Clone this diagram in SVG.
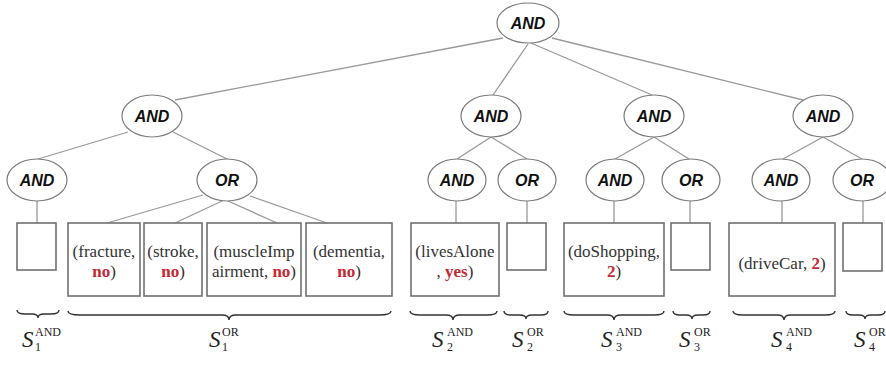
<svg xmlns="http://www.w3.org/2000/svg" width="886" height="365" viewBox="0 0 886 365">
<style>
.e{fill:#fff;stroke:#7a7a7a;stroke-width:1.2}
.nt{font-family:"Liberation Sans",Arial,sans-serif;font-weight:bold;font-style:italic;font-size:16px;fill:#111;text-anchor:middle}
.c line{stroke:#999;stroke-width:1.3}
.b{fill:#fff;stroke:#707070;stroke-width:1.6}
.bt{font-family:"Liberation Serif","Times New Roman",serif;font-size:17px;fill:#333;text-anchor:middle}
.r{fill:#c62832;font-weight:bold}
.br{fill:none;stroke:#333;stroke-width:1.4}
.s{font-family:"Liberation Serif","Times New Roman",serif;font-style:italic;font-size:23px;fill:#222}
.sp{font-family:"Liberation Serif","Times New Roman",serif;font-size:12px;fill:#222}
</style>
<rect width="886" height="365" fill="#fff"/>
<g id="connectors" class="c">
<line x1="503" y1="38" x2="175" y2="100"/>
<line x1="528" y1="44" x2="493" y2="95"/>
<line x1="531" y1="43" x2="652" y2="95"/>
<line x1="552" y1="38" x2="803" y2="100"/>
<line x1="128" y1="132" x2="38" y2="159"/>
<line x1="173" y1="132" x2="227" y2="159"/>
<line x1="491" y1="137" x2="457" y2="159"/>
<line x1="491" y1="137" x2="527" y2="159"/>
<line x1="654" y1="137" x2="615" y2="159"/>
<line x1="654" y1="137" x2="689" y2="159"/>
<line x1="823" y1="137" x2="783" y2="159"/>
<line x1="823" y1="137" x2="862" y2="159"/>
<line x1="37" y1="201" x2="37" y2="223"/>
<line x1="203" y1="195" x2="107" y2="223"/>
<line x1="222" y1="201" x2="175" y2="223"/>
<line x1="228" y1="201" x2="277" y2="223"/>
<line x1="250" y1="196" x2="327" y2="223"/>
<line x1="456" y1="201" x2="456" y2="223"/>
<line x1="527" y1="201" x2="527" y2="223"/>
<line x1="614" y1="201" x2="614" y2="223"/>
<line x1="690" y1="201" x2="690" y2="223"/>
<line x1="782" y1="201" x2="782" y2="223"/>
<line x1="863" y1="201" x2="863" y2="223"/>
</g>
<g id="root"><ellipse class="e" cx="528" cy="23" rx="31" ry="20"/><text class="nt" x="528" y="29">AND</text></g>
<g id="and1"><ellipse class="e" cx="152" cy="116" rx="30" ry="21"/><text class="nt" x="152" y="122">AND</text></g>
<g id="and2"><ellipse class="e" cx="491" cy="116" rx="30" ry="21"/><text class="nt" x="491" y="122">AND</text></g>
<g id="and3"><ellipse class="e" cx="654" cy="116" rx="30" ry="21"/><text class="nt" x="654" y="122">AND</text></g>
<g id="and4"><ellipse class="e" cx="823" cy="116" rx="30" ry="21"/><text class="nt" x="823" y="122">AND</text></g>
<g id="and1a"><ellipse class="e" cx="37" cy="180" rx="30" ry="21"/><text class="nt" x="37" y="186">AND</text></g>
<g id="or1"><ellipse class="e" cx="227" cy="180" rx="30" ry="21"/><text class="nt" x="227" y="186">OR</text></g>
<g id="and2a"><ellipse class="e" cx="457" cy="180" rx="29" ry="21"/><text class="nt" x="457" y="186">AND</text></g>
<g id="or2"><ellipse class="e" cx="527" cy="180" rx="29" ry="21"/><text class="nt" x="527" y="186">OR</text></g>
<g id="and3a"><ellipse class="e" cx="615" cy="180" rx="29" ry="21"/><text class="nt" x="615" y="186">AND</text></g>
<g id="or3"><ellipse class="e" cx="691" cy="180" rx="29" ry="21"/><text class="nt" x="691" y="186">OR</text></g>
<g id="and4a"><ellipse class="e" cx="781" cy="180" rx="29" ry="21"/><text class="nt" x="781" y="186">AND</text></g>
<g id="or4"><ellipse class="e" cx="862" cy="180" rx="29" ry="21"/><text class="nt" x="862" y="186">OR</text></g>
<g id="box1"><rect class="b" x="17" y="223" width="39" height="47"/></g>
<g id="fracture"><rect class="b" x="68" y="223" width="72" height="73"/><text class="bt" x="104" y="257">(fracture,</text><text class="bt" x="104" y="277"><tspan class="r">no</tspan>)</text></g>
<g id="stroke"><rect class="b" x="144" y="223" width="58" height="73"/><text class="bt" x="173" y="257">(stroke,</text><text class="bt" x="173" y="277"><tspan class="r">no</tspan>)</text></g>
<g id="muscle"><rect class="b" x="207" y="223" width="94" height="73"/><text class="bt" x="254" y="257">(muscleImp</text><text class="bt" x="254" y="277">airment, <tspan class="r">no</tspan>)</text></g>
<g id="dementia"><rect class="b" x="306" y="223" width="86" height="73"/><text class="bt" x="349" y="257">(dementia,</text><text class="bt" x="349" y="277"><tspan class="r">no</tspan>)</text></g>
<g id="lives"><rect class="b" x="411" y="223" width="88" height="73"/><text class="bt" x="455" y="257">(livesAlone</text><text class="bt" x="455" y="277">, <tspan class="r">yes</tspan>)</text></g>
<g id="box2"><rect class="b" x="507" y="223" width="39" height="47"/></g>
<g id="shopping"><rect class="b" x="564" y="223" width="100" height="73"/><text class="bt" x="614" y="257">(doShopping,</text><text class="bt" x="614" y="277"><tspan class="r">2</tspan>)</text></g>
<g id="box3"><rect class="b" x="671" y="223" width="39" height="47"/></g>
<g id="drive"><rect class="b" x="729" y="223" width="106" height="73"/><text class="bt" x="782" y="269">(driveCar, <tspan class="r">2</tspan>)</text></g>
<g id="box4"><rect class="b" x="843" y="223" width="39" height="48"/></g>
<g id="braces">
<path class="br" d="M17,310 Q17,314 25,314 L32,314 Q38,314 38,318 Q38,314 44,314 L51,314 Q59,314 59,310"/>
<path class="br" d="M68,311 Q68,315 80,315 L222,315 Q229,315 229,320 Q229,315 236,315 L379,315 Q391,315 391,311"/>
<path class="br" d="M410,311 Q410,315 420,315 L446,315 Q453,315 453,320 Q453,315 460,315 L487,315 Q497,315 497,311"/>
<path class="br" d="M504,311 Q504,315 511,315 L520,315 Q526,315 526,319 Q526,315 532,315 L541,315 Q548,315 548,311"/>
<path class="br" d="M564,311 Q564,315 574,315 L607,315 Q614,315 614,320 Q614,315 621,315 L654,315 Q664,315 664,311"/>
<path class="br" d="M673,311 Q673,315 680,315 L686,315 Q692,315 692,319 Q692,315 698,315 L703,315 Q710,315 710,311"/>
<path class="br" d="M733,311 Q733,315 743,315 L777,315 Q784,315 784,320 Q784,315 791,315 L825,315 Q835,315 835,311"/>
<path class="br" d="M846,311 Q846,315 853,315 L859,315 Q865,315 865,319 Q865,315 871,315 L878,315 Q885,315 885,311"/>
</g>
<g id="labels">
<text class="s" x="22" y="347">S</text><text class="sp" x="35" y="336">AND</text><text class="sp" x="35" y="351">1</text>
<text class="s" x="209" y="347">S</text><text class="sp" x="222" y="336">OR</text><text class="sp" x="222" y="351">1</text>
<text class="s" x="432" y="347">S</text><text class="sp" x="447" y="336">AND</text><text class="sp" x="447" y="351">2</text>
<text class="s" x="512" y="347">S</text><text class="sp" x="527" y="336">OR</text><text class="sp" x="527" y="351">2</text>
<text class="s" x="601" y="347">S</text><text class="sp" x="616" y="336">AND</text><text class="sp" x="616" y="351">3</text>
<text class="s" x="679" y="347">S</text><text class="sp" x="694" y="336">OR</text><text class="sp" x="694" y="351">3</text>
<text class="s" x="771" y="347">S</text><text class="sp" x="786" y="336">AND</text><text class="sp" x="786" y="351">4</text>
<text class="s" x="854" y="347">S</text><text class="sp" x="869" y="336">OR</text><text class="sp" x="869" y="351">4</text>
</g>
</svg>
